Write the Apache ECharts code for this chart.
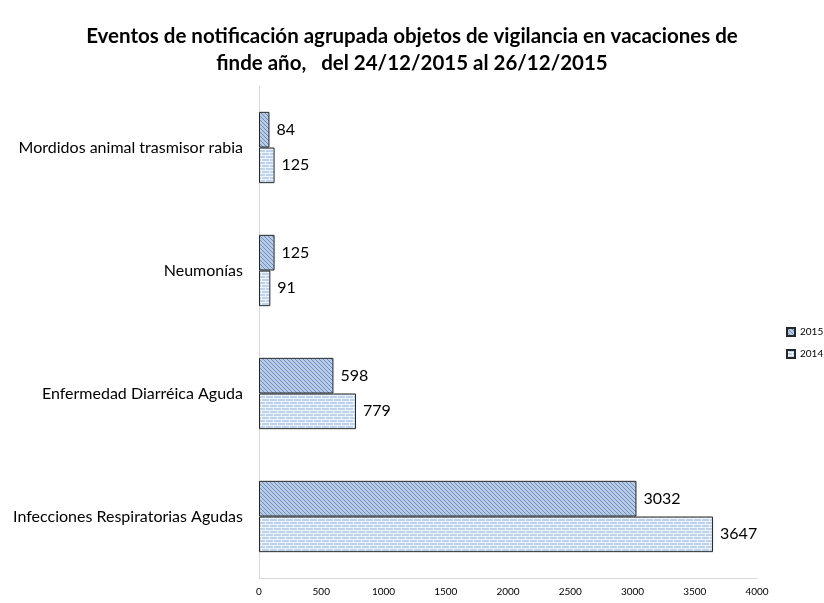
<!DOCTYPE html>
<html>
<head>
<meta charset="utf-8">
<script src="https://cdn.jsdelivr.net/npm/echarts@6/dist/echarts.min.js"></script>
<style>
  html, body { margin: 0; padding: 0; background: #fff; }
  #chart { width: 824px; height: 603px; }
</style>
</head>
<body>
<div id="chart"></div>
<script>
// datos
const categorias = [
  "Mordidos animal trasmisor rabia",
  "Neumonías",
  "Enfermedad Diarréica Aguda",
  "Infecciones Respiratorias Agudas",
];
const valores2015 = [84, 125, 598, 3032];
const valores2014 = [125, 91, 779, 3647];
const ejeX = [0, 500, 1000, 1500, 2000, 2500, 3000, 3500, 4000];

// tramas de relleno (rayado diagonal y ladrillo)
function tramaDiagonal() {
  const c = document.createElement("canvas");
  c.width = 4;
  c.height = 4;
  const ctx = c.getContext("2d");
  ctx.fillStyle = "#b7cbe7";
  ctx.fillRect(0, 0, 4, 4);
  ctx.fillStyle = "#6f90bf";
  for (let i = 0; i < 4; i++) ctx.fillRect(i, i, 1, 1);
  return c;
}
function tramaLadrillo() {
  const c = document.createElement("canvas");
  c.width = 8;
  c.height = 6;
  const ctx = c.getContext("2d");
  ctx.fillStyle = "#bfd2ec";
  ctx.fillRect(0, 0, 8, 6);
  ctx.fillStyle = "#eef4fb";
  ctx.fillRect(0, 2, 8, 1);
  ctx.fillRect(0, 5, 8, 1);
  ctx.fillRect(1, 0, 1, 2);
  ctx.fillRect(5, 3, 1, 2);
  return c;
}

const chart = echarts.init(document.getElementById("chart"));
const fuente = "Lato, 'Open Sans', sans-serif";

const option = {
  animation: false,
  title: {
    text: "Eventos de notificación agrupada objetos de vigilancia en vacaciones de\nfinde año,   del 24/12/2015 al 26/12/2015",
    left: "center",
    top: 18,
    textStyle: {
      fontFamily: fuente,
      fontSize: 20.5,
      fontWeight: "bold",
      color: "#000",
      lineHeight: 27,
    },
  },
  legend: {
    orient: "vertical",
    left: 786,
    top: 327,
    padding: 0,
    icon: "rect",
    itemWidth: 8,
    itemHeight: 8,
    itemGap: 12,
    textStyle: { fontFamily: fuente, fontSize: 10, color: "#000" },
    data: ["2015", "2014"],
  },
  grid: {
    left: 259,
    right: 67,
    top: 86,
    bottom: 25,
    containLabel: false,
  },
  xAxis: {
    type: "value",
    min: 0,
    max: 4000,
    interval: 500,
    axisLine: { show: true, lineStyle: { color: "#d9d9d9" } },
    axisTick: { show: false },
    splitLine: { show: false },
    axisLabel: {
      fontFamily: fuente,
      fontSize: 10,
      color: "#000",
      margin: 9,
      formatter: (v) => String(v),
    },
  },
  yAxis: {
    type: "category",
    inverse: true,
    data: categorias,
    axisLine: { show: true, lineStyle: { color: "#d9d9d9" } },
    axisTick: { show: false },
    axisLabel: { fontFamily: fuente, fontSize: 16, color: "#000", margin: 16 },
  },
  series: [
    {
      name: "2015",
      type: "bar",
      data: valores2015,
      barGap: "0%",
      barCategoryGap: "42%",
      itemStyle: {
        color: { image: tramaDiagonal(), repeat: "repeat" },
        borderColor: "#262626",
        borderWidth: 1,
      },
      label: { show: true, position: "right", distance: 7, fontFamily: fuente, fontSize: 16, color: "#000" },
    },
    {
      name: "2014",
      type: "bar",
      data: valores2014,
      barGap: "0%",
      barCategoryGap: "42%",
      itemStyle: {
        color: { image: tramaLadrillo(), repeat: "repeat" },
        borderColor: "#262626",
        borderWidth: 1,
      },
      label: { show: true, position: "right", distance: 7, fontFamily: fuente, fontSize: 16, color: "#000" },
    },
  ],
};

chart.setOption(option);
</script>
</body>
</html>
